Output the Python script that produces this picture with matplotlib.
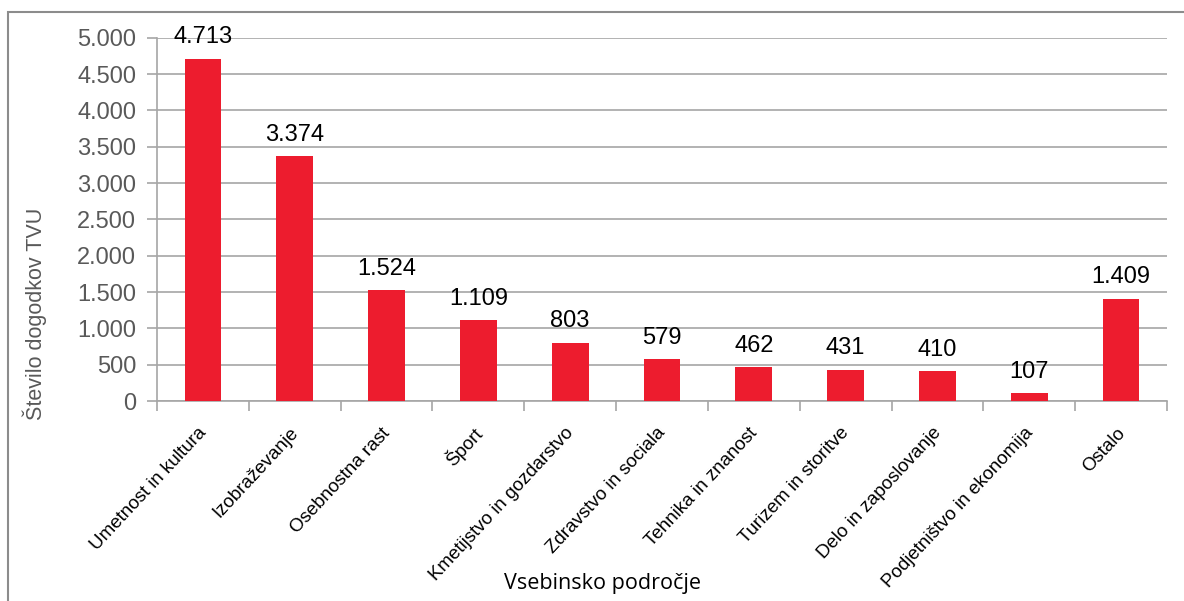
import matplotlib
matplotlib.use("Agg")
import matplotlib.pyplot as plt
from matplotlib.patches import Rectangle
from matplotlib.ticker import FuncFormatter
from matplotlib.transforms import ScaledTranslation
import numpy as np

# podatki
kategorije = ["Umetnost in kultura", "Izobraževanje", "Osebnostna rast", "Šport",
              "Kmetijstvo in gozdarstvo", "Zdravstvo in sociala", "Tehnika in znanost",
              "Turizem in storitve", "Delo in zaposlovanje", "Podjetništvo in ekonomija",
              "Ostalo"]
vrednosti = [4713, 3374, 1524, 1109, 803, 579, 462, 431, 410, 107, 1409]
y_ticks = [0, 500, 1000, 1500, 2000, 2500, 3000, 3500, 4000, 4500, 5000]

plt.rcParams['font.family'] = ['Liberation Sans', 'DejaVu Sans']

W, H = 1184, 601
fig = plt.figure(figsize=(W / 100, H / 100), dpi=100)
ax = fig.add_axes([157 / W, 1 - 401 / H, (1167 - 157) / W, (401 - 37.8) / H])

x = np.arange(len(kategorije))
ax.bar(x, vrednosti, width=0.4, color="#ED1C2E", zorder=3)

for xi, v in zip(x, vrednosti):
    oznaka = f"{v:,}".replace(",", ".")
    ax.annotate(oznaka, (xi, v), xytext=(0, 11), textcoords="offset points",
                ha="center", va="baseline", fontsize=17, color="black", zorder=4)

ax.set_xlim(-0.5, len(kategorije) - 0.5)
ax.set_ylim(0, 5000)
ax.set_yticks(y_ticks)
ax.yaxis.set_major_formatter(FuncFormatter(lambda v, p: f"{int(v):,}".replace(",", ".")))
ax.grid(axis="y", color="#A6A6A6", linewidth=1.2, zorder=0)

# kljukice na mejah kategorij
ax.set_xticks(np.arange(len(kategorije) + 1) - 0.5)
ax.set_xticklabels([])
ax.set_xticks(x, minor=True)
ax.set_xticklabels(kategorije, minor=True, rotation=47, ha="right", va="center",
                   rotation_mode="anchor", fontsize=13.5, color="black")
ax.tick_params(axis="x", which="minor", length=0, pad=21)
premik = ScaledTranslation(1 / 100, 0, fig.dpi_scale_trans)
for lbl in ax.get_xticklabels(minor=True):
    lbl.set_transform(lbl.get_transform() + premik)
ax.tick_params(axis="x", which="major", length=7, color="#A6A6A6", width=1.2)
ax.tick_params(axis="y", length=7, color="#A6A6A6", width=1.2, labelsize=17,
               labelcolor="#595959", pad=8)

for s in ["top", "right"]:
    ax.spines[s].set_visible(False)
for s in ["left", "bottom"]:
    ax.spines[s].set_color("#A6A6A6")
    ax.spines[s].set_linewidth(1.2)

fig.text(35 / W, 1 - 314 / H, "Število dogodkov TVU", rotation=90, ha="center",
         va="center", fontsize=15.5, color="#595959")
fig.text(603 / W, 1 - 583 / H, "Vsebinsko področje", ha="center", va="center",
         fontsize=15.5, color="black", family=["Open Sans", "DejaVu Sans"])

# okvir grafa
fig.add_artist(Rectangle((8 / W, -0.1), 2, 1 - 12 / H + 0.1, transform=fig.transFigure,
                         fill=False, edgecolor="#8C8C8C", linewidth=1.5))

fig.savefig("out.png", dpi=100)
